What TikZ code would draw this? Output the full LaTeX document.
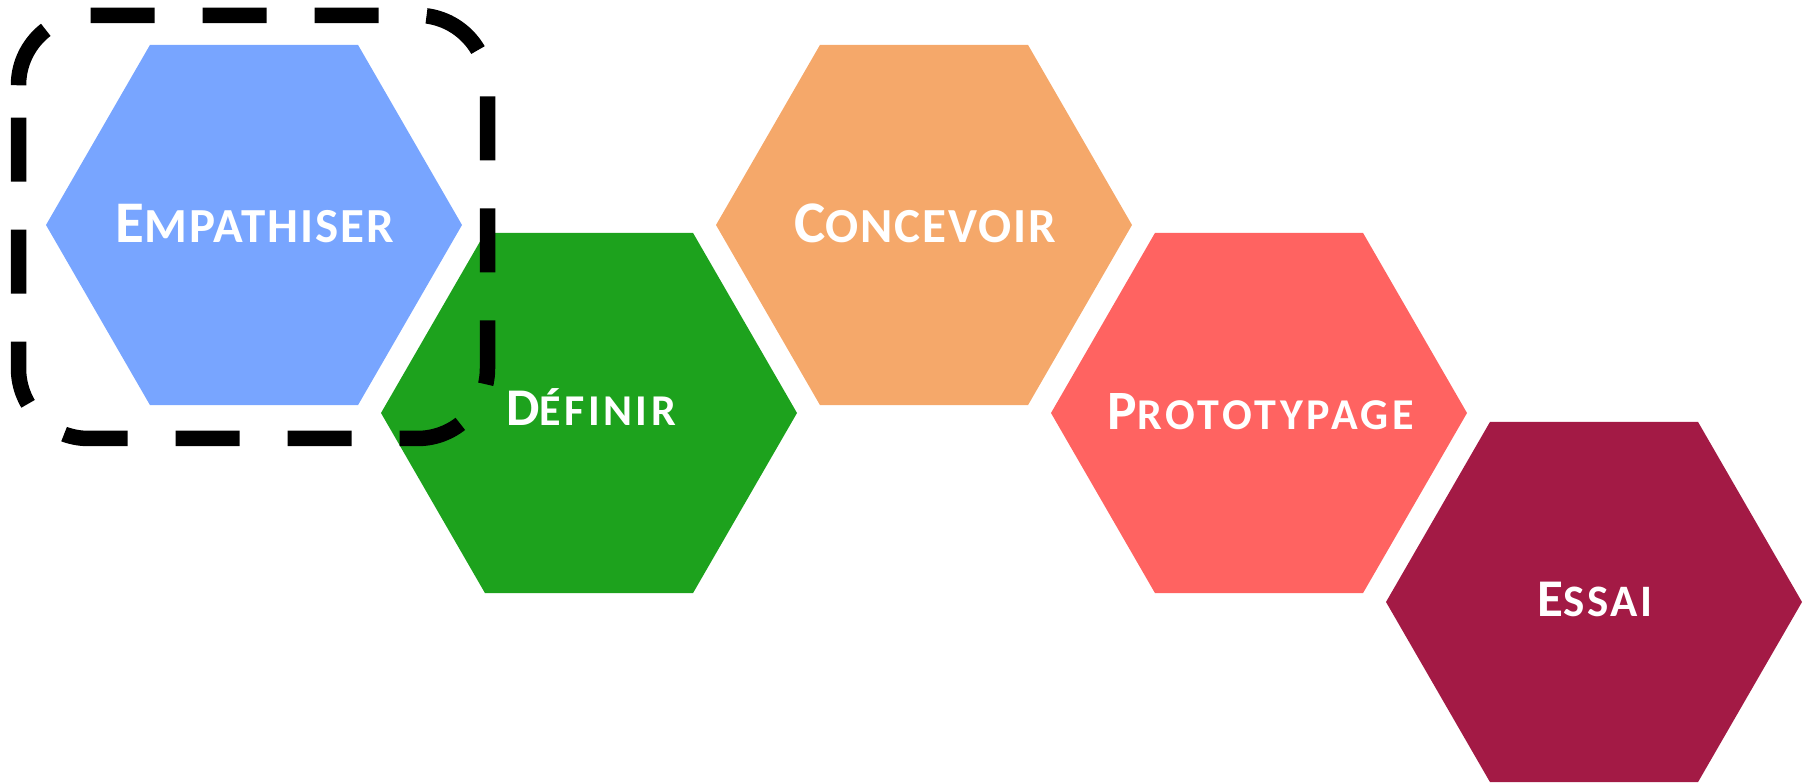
\documentclass[tikz,border=0pt]{standalone}
\usepackage{fontspec}
\setmainfont{Carlito}
\usetikzlibrary{shapes.geometric}

\definecolor{empblue}{HTML}{78A5FF}
\definecolor{defgreen}{HTML}{1DA21D}
\definecolor{conorange}{HTML}{F5A86A}
\definecolor{protored}{HTML}{FF6361}
\definecolor{essaired}{HTML}{A31A45}

% first letter at full size, the rest as small capitals, with tracking #5
\newcommand{\capword}[5]{{\addfontfeatures{LetterSpace=#5}%
  {\fontsize{#1pt}{#1pt}\selectfont #3}{\fontsize{#2pt}{#2pt}\selectfont #4}}}

\begin{document}
\begin{tikzpicture}[x=1pt,y=-1pt,
  hexagon/.style={regular polygon, regular polygon sides=6, minimum size=416pt,
    inner sep=0pt, outer sep=0pt, draw=none},
  phase/.style={font=\bfseries, text=white, anchor=base, inner sep=0pt},
  dashbox/.style={line width=15.5pt, dash pattern=on 64pt off 48pt,
    rounded corners=70pt, line cap=butt}]
\useasboundingbox (0,0) rectangle (1808,783);

% the five steps
\node[hexagon, fill=empblue]   (h1) at (254,225) {};
\node[hexagon, fill=defgreen]  (h2) at (589,413) {};
\node[hexagon, fill=conorange] (h3) at (924,225) {};
\node[hexagon, fill=protored]  (h4) at (1259,413) {};
\node[hexagon, fill=essaired]  (h5) at (1594,602) {};

% step names
\node[phase] (t1) at (255,243)   {\capword{59}{49}{E}{MPATHISER}{4}};
\node[phase] (t2) at (591,426)   {\capword{53}{44}{D}{ÉFINIR}{8}};
\node[phase] (t3) at (925,242.7) {\capword{59}{49}{C}{ONCEVOIR}{4}};
\node[phase] (t4) at (1261,430)  {\capword{55.5}{44}{P}{ROTOTYPAGE}{8.5}};
\node[phase] (t5) at (1595,616.7){\capword{53}{45}{E}{SSAI}{6}};

% dashed frame around the first step, traced clockwise from the top-left bend
\coordinate (f0) at (18.5,85.3);
\coordinate (f1) at (18.5,15.3);
\coordinate (f2) at (487.5,15.3);
\coordinate (f3) at (487.5,438.5);
\coordinate (f4) at (18.5,438.5);
\draw[dashbox] (f0) -- (f1) -- (f2) -- (f3) -- (f4) -- (f0);
\end{tikzpicture}
\end{document}
